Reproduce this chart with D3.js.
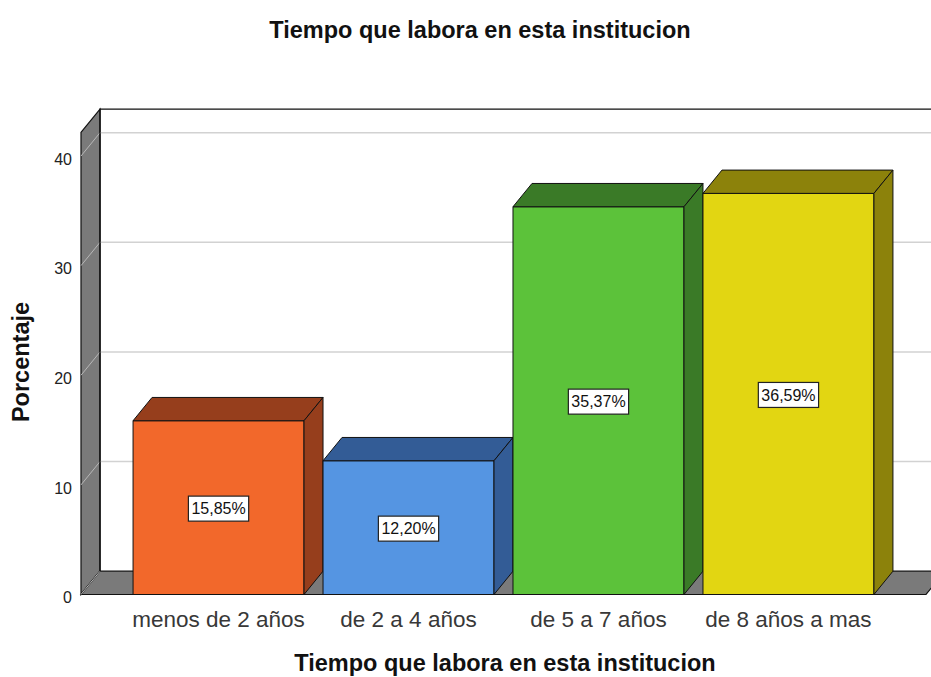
<!DOCTYPE html>
<html><head><meta charset="utf-8">
<script src="https://cdn.jsdelivr.net/npm/d3@7"></script>
<style>body{margin:0;background:#fff}svg{display:block;font-family:"Liberation Sans",Arial,sans-serif}</style>
</head><body>
<svg id="c" width="931" height="677"></svg>
<script>
const categories = ["menos de 2 años","de 2 a 4 años","de 5 a 7 años","de 8 años a mas"];
const values = [15.85, 12.20, 35.37, 36.59];
const valueLabels = ["15,85%","12,20%","35,37%","36,59%"];
const yTicks = [0,10,20,30,40];
const frontColors = ["#f2682b","#5595e2","#5cc23a","#e2d612"];
const darkColors  = ["#963e1c","#335c96","#3a7a27","#8c820b"];
const titleText = "Tiempo que labora en esta institucion";

const svg = d3.select("#c");
const DX = 19, DY = 23.3;
const x = d3.scaleBand().domain(categories).range([81, 926]).paddingInner(0.1).paddingOuter(0.274);
const y = d3.scaleLinear().domain([0, 40]).range([594.5, 156]);
const yMax = 42.15;
const x0 = 81, x1 = 926;

// left wall
svg.append("polygon")
  .attr("points", [[x0, y(yMax)], [x0+DX, y(yMax)-DY], [x0+DX, y(0)-DY], [x0, y(0)]].map(p=>p.join(",")).join(" "))
  .attr("fill", "#7a7a7a").attr("stroke", "#111").attr("stroke-width", 1.2);
// floor
svg.append("polygon")
  .attr("points", [[x0, y(0)], [x0+DX, y(0)-DY], [x1+DX, y(0)-DY], [x1, y(0)]].map(p=>p.join(",")).join(" "))
  .attr("fill", "#7a7a7a").attr("stroke", "#111").attr("stroke-width", 1.2);
// gridlines
yTicks.forEach(v => {
  svg.append("line").attr("x1", x0).attr("y1", y(v)).attr("x2", x0+DX).attr("y2", y(v)-DY)
    .attr("stroke", "#b8b8b8").attr("stroke-width", 1);
  if (v > 0) svg.append("line").attr("x1", x0+DX).attr("y1", y(v)-DY).attr("x2", x1+DX).attr("y2", y(v)-DY)
    .attr("stroke", "#d2d2d2").attr("stroke-width", 1.5);
});
// back frame
svg.append("polyline")
  .attr("points", [[x0+DX, y(0)-DY], [x0+DX, y(yMax)-DY], [x1+DX+40, y(yMax)-DY]].map(p=>p.join(",")).join(" "))
  .attr("fill", "none").attr("stroke", "#111").attr("stroke-width", 1.4);

// bars
const g = svg.append("g");
categories.forEach((c, i) => {
  const l = x(c), r = x(c) + x.bandwidth(), t = y(values[i]), b = y(0);
  const bg = g.append("g");
  bg.append("polygon").attr("points", [[l,t],[r,t],[r,b],[l,b]].map(p=>p.join(",")).join(" "))
    .attr("fill", frontColors[i]).attr("stroke", "#111").attr("stroke-width", 1);
  bg.append("polygon").attr("points", [[l,t],[l+DX,t-DY],[r+DX,t-DY],[r,t]].map(p=>p.join(",")).join(" "))
    .attr("fill", darkColors[i]).attr("stroke", "#111").attr("stroke-width", 1);
  bg.append("polygon").attr("points", [[r,t],[r+DX,t-DY],[r+DX,b-DY],[r,b]].map(p=>p.join(",")).join(" "))
    .attr("fill", darkColors[i]).attr("stroke", "#111").attr("stroke-width", 1);
});
// value labels
categories.forEach((c, i) => {
  const cx = x(c) + x.bandwidth()/2, cy = (y(values[i]) + y(0))/2 + 1;
  const lg = svg.append("g").attr("transform", `translate(${cx},${cy})`);
  const txt = lg.append("text").attr("text-anchor", "middle").attr("dy", "0.36em")
    .attr("font-size", 16).attr("fill", "#111").text(valueLabels[i]);
  const bb = txt.node().getBBox();
  lg.insert("rect", "text").attr("x", bb.x - 3).attr("y", -12.5).attr("width", bb.width + 6).attr("height", 25)
    .attr("fill", "#fff").attr("stroke", "#222").attr("stroke-width", 1.2);
});
// y tick labels
yTicks.forEach(v => {
  svg.append("text").attr("x", 72).attr("y", y(v) + 3).attr("dy", "0.36em").attr("text-anchor", "end")
    .attr("font-size", 16).attr("fill", "#222").text(v);
});
// category labels
categories.forEach(c => {
  svg.append("text").attr("x", x(c) + x.bandwidth()/2).attr("y", 627).attr("text-anchor", "middle")
    .attr("font-size", 22.5).attr("fill", "#383838").text(c);
});
// titles
svg.append("text").attr("x", 480).attr("y", 37.5).attr("text-anchor", "middle")
  .attr("font-size", 23.5).attr("font-weight", "bold").attr("fill", "#111").text(titleText);
svg.append("text").attr("x", 505).attr("y", 671).attr("text-anchor", "middle")
  .attr("font-size", 23.5).attr("font-weight", "bold").attr("fill", "#111").text(titleText);
svg.append("text").attr("transform", "translate(29,362) rotate(-90)").attr("text-anchor", "middle")
  .attr("font-size", 23.5).attr("font-weight", "bold").attr("fill", "#111").text("Porcentaje");
</script>
</body></html>
